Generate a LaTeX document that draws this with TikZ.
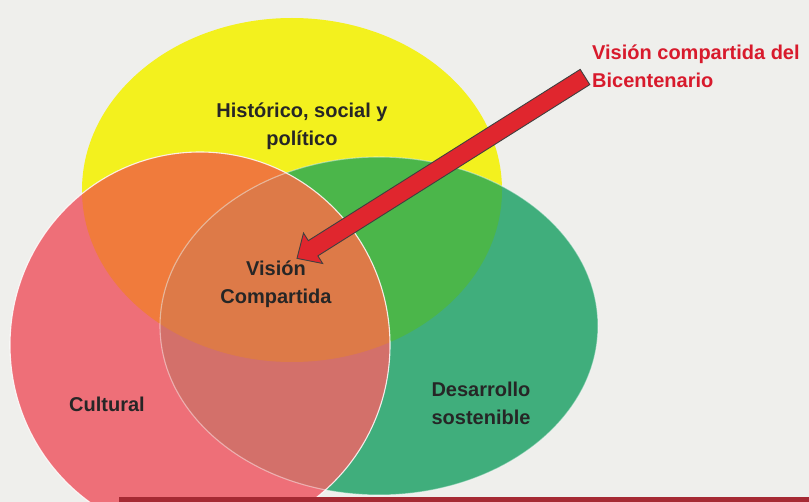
\documentclass[tikz,border=0pt]{standalone}
\usepackage{fontspec}
\setmainfont{Liberation Sans}
\usetikzlibrary{calc}
\definecolor{fondo}{HTML}{EFEFEC}
\definecolor{amarillo}{HTML}{F3F11E}
\definecolor{rosa}{HTML}{EE6F78}
\definecolor{verde}{HTML}{40AE7C}
\definecolor{naranja}{HTML}{F07B3C}
\definecolor{verdeclaro}{HTML}{4BB64A}
\definecolor{rojizo}{HTML}{D3706A}
\definecolor{centro}{HTML}{DD7A48}
\definecolor{flecha}{HTML}{E0262E}
\definecolor{titulo}{HTML}{D81A2C}
\definecolor{barra}{HTML}{A52A33}

\begin{document}
\begin{tikzpicture}[x=1pt, y=-1pt,
        font=\bfseries\fontsize{20}{28}\selectfont,
        etiqueta/.style={align=center, text=black!85, inner sep=0pt},
        borde/.style={white, opacity=0.85, line width=1.1pt}]
    \def\hist{(292, 190) ellipse [x radius=210pt, y radius=172pt]}
    \def\cult{(200, 345) ellipse [x radius=190pt, y radius=193pt]}
    \def\desa{(379, 326) ellipse [x radius=219pt, y radius=169pt]}

    \useasboundingbox[fill=fondo] (0, 0) rectangle (809, 502);
    \clip (0, 0) rectangle (809, 502);
    \fill[amarillo] \hist;
    \fill[verde] \desa;
    \fill[rosa] \cult;
    \begin{scope} \clip \hist; \fill[naranja] \cult; \end{scope}
    \begin{scope} \clip \hist; \fill[verdeclaro] \desa; \end{scope}
    \begin{scope} \clip \cult; \fill[rojizo] \desa; \end{scope}
    \begin{scope} \clip \hist; \clip \cult; \fill[centro] \desa; \end{scope}
    \draw[borde] \cult;
    \draw[borde, opacity=0.45] \desa;
    \fill[barra] (119, 497) rectangle (809, 502);

    \node[etiqueta] (historico) at (302, 126) {Histórico, social y\\político};
    \node[etiqueta] (vision) at (276, 284) {Visión\\Compartida};
    \node[etiqueta] (cultural) at (107, 404) {Cultural};
    \node[etiqueta] (desarrollo) at (481, 403) {Desarrollo\\sostenible};
    \node[etiqueta, text=titulo, align=left, anchor=west] (bicentenario) at (592, 66)
        {Visión compartida del\\Bicentenario};

    \coordinate (cola) at ($(bicentenario.west)+(-7, 11)$);
    \coordinate (punta) at ($(vision.north)+(21, -2)$);
    \coordinate (base) at ($(punta)!19pt!(cola)$);
    \filldraw[fill=flecha, draw=black!75, line width=0.9pt, line join=miter]
        ($(cola)!9pt!90:(punta)$) -- ($(base)!9pt!90:(punta)$)
        -- ($(base)!18pt!90:(punta)$) -- (punta)
        -- ($(base)!18pt!-90:(punta)$) -- ($(base)!9pt!-90:(punta)$)
        -- ($(cola)!9pt!-90:(punta)$) -- cycle;
\end{tikzpicture}
\end{document}
